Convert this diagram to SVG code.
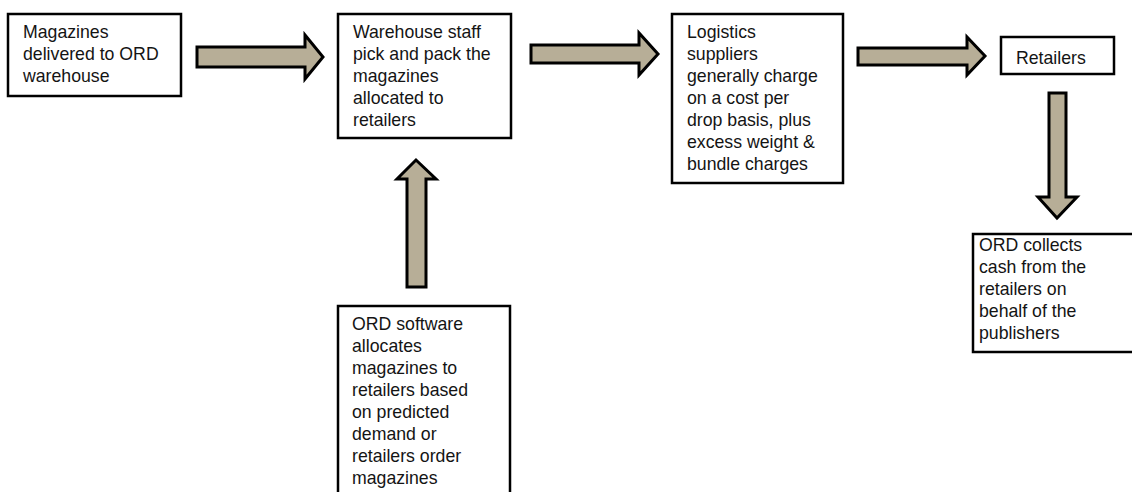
<svg xmlns="http://www.w3.org/2000/svg" width="1132" height="492" viewBox="0 0 1132 492">
  <style>
    .box { fill: #ffffff; stroke: #000000; stroke-width: 2.5; }
    .arrow { fill: #b7ae97; stroke: #000000; stroke-width: 3; stroke-linejoin: miter; }
    .label { font-family: "Liberation Sans", Arial, sans-serif; font-size: 17.7px; fill: #141414; }
  </style>
  <rect width="1132" height="492" fill="#ffffff"/>

  <!-- block arrows between steps -->
  <g id="connectors">
    <polygon class="arrow" points="197,47 305,47 305,35 323,57 305,79 305,67 197,67"/>
    <polygon class="arrow" points="531,45 639,45 639,33 658,54 639,75 639,63 531,63"/>
    <polygon class="arrow" points="858,48 967,48 967,37 985,56 967,75 967,65 858,65"/>
    <polygon class="arrow" points="407,287 407,179 397,179 416,160 436,179 426,179 426,287"/>
    <polygon class="arrow" points="1049,93 1066,93 1066,197 1077,197 1057,218 1038,197 1049,197"/>
  </g>

  <g id="delivered">
    <rect class="box" x="8" y="14" width="173" height="82"/>
    <text class="label" x="23" y="38">Magazines</text>
    <text class="label" x="23" y="60">delivered to ORD</text>
    <text class="label" x="23" y="82">warehouse</text>
  </g>

  <g id="pick-pack">
    <rect class="box" x="338" y="14" width="173" height="124"/>
    <text class="label" x="353" y="38">Warehouse staff</text>
    <text class="label" x="353" y="60">pick and pack the</text>
    <text class="label" x="353" y="82">magazines</text>
    <text class="label" x="353" y="104">allocated to</text>
    <text class="label" x="353" y="126">retailers</text>
  </g>

  <g id="logistics">
    <rect class="box" x="672" y="14" width="171" height="169"/>
    <text class="label" x="687" y="38">Logistics</text>
    <text class="label" x="687" y="60">suppliers</text>
    <text class="label" x="687" y="82">generally charge</text>
    <text class="label" x="687" y="104">on a cost per</text>
    <text class="label" x="687" y="126">drop basis, plus</text>
    <text class="label" x="687" y="148">excess weight &amp;</text>
    <text class="label" x="687" y="170">bundle charges</text>
  </g>

  <g id="retailers">
    <rect class="box" x="1001" y="37" width="113" height="37"/>
    <text class="label" x="1016" y="64">Retailers</text>
  </g>

  <g id="cash-collection">
    <rect class="box" x="973" y="234" width="170" height="118"/>
    <text class="label" x="979" y="251">ORD collects</text>
    <text class="label" x="979" y="273">cash from the</text>
    <text class="label" x="979" y="295">retailers on</text>
    <text class="label" x="979" y="317">behalf of the</text>
    <text class="label" x="979" y="339">publishers</text>
  </g>

  <g id="allocation">
    <rect class="box" x="338" y="306" width="172" height="200"/>
    <text class="label" x="352" y="330">ORD software</text>
    <text class="label" x="352" y="352">allocates</text>
    <text class="label" x="352" y="374">magazines to</text>
    <text class="label" x="352" y="396">retailers based</text>
    <text class="label" x="352" y="418">on predicted</text>
    <text class="label" x="352" y="440">demand or</text>
    <text class="label" x="352" y="462">retailers order</text>
    <text class="label" x="352" y="484">magazines</text>
  </g>
</svg>
